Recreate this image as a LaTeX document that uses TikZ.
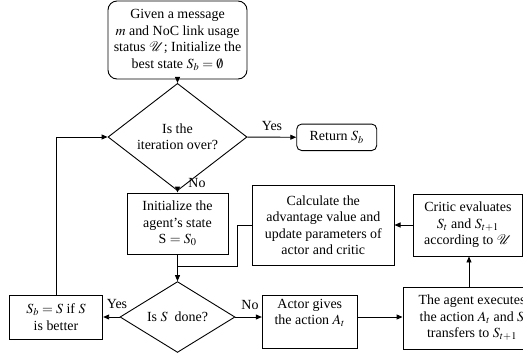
\documentclass[tikz,border=0pt]{standalone}
\usepackage{mathptmx}
\usepackage{fontspec}
\setmainfont{Liberation Serif}
\usetikzlibrary{shapes.geometric,arrows.meta}
\begin{document}
\begin{tikzpicture}[x=1bp,y=-1bp,
  font=\fontsize{14}{16.5}\selectfont,
  line width=0.9bp,
  box/.style={draw, rectangle, inner sep=0pt, align=center},
  rbox/.style={box, rounded corners=#1},
  dia/.style={draw, diamond, inner sep=0pt, align=center},
  arr/.style={-{Triangle[length=6bp,width=5bp]}},
  lbl/.style={inner sep=0pt}]
\useasboundingbox (0,0) rectangle (523,354);

% process steps
\node[rbox=9bp, minimum width=139bp, minimum height=78bp] (start) at (177.5,40)
  {Given a message\\ $m$ and NoC link usage\\ status $\mathcal{U}$; Initialize the\\ best state $S_b=\emptyset$};
\node[dia, minimum width=139bp, minimum height=74bp] (d1) at (177.5,137)
  {Is the\\ iteration over?};
\node[rbox=5bp, minimum width=80bp, minimum height=26.5bp] (ret) at (336.7,137.3)
  {Return $S_b$};
\node[box, minimum width=101bp, minimum height=61bp] (init) at (177.5,223.5)
  {Initialize the\\ agent’s state\\ S $=S_0$};
\node[box, minimum width=141.5bp, minimum height=80.7bp] (calc) at (323.3,225.3)
  {Calculate the\\ advantage value and\\ update parameters of\\ actor and critic};
\node[box, minimum width=109.7bp, minimum height=62bp] (critic) at (467.9,225)
  {Critic evaluates\\ $S_t$ and $S_{t+1}$\\ according to $\mathcal{U}$};
\node[dia, minimum width=115bp, minimum height=56bp] (d2) at (177.5,317)
  {Is $S$\ \ done?};
\node[box, minimum width=93.4bp, minimum height=44bp] (sb) at (56,317)
  {$S_b=S$ if $S$\\ is better};
\node[box, minimum width=95bp, minimum height=53.3bp] (actor) at (309.8,321.6)
  {Actor gives\\ the action $A_t$\\[3bp]};
\node[box, minimum width=138bp, minimum height=62bp] (agent) at (472,318)
  {The agent executes\\ the action $A_t$ and $S$\\ transfers to $S_{t+1}$};

% branch labels
\node[lbl] (yes1) at (272,126) {Yes};
\node[lbl] (no1)  at (197,183) {No};
\node[lbl] (yes2) at (117,304) {Yes};
\node[lbl] (no2)  at (250,305) {No};

\coordinate (bend) at (237,266);
\coordinate (join) at (177.5,266);

% connectors
\draw[arr] (start) -- (d1);
\draw[arr] (d1) -- (ret);
\draw[arr] (d1.south) -- (init.north);
\draw[arr] (init.south) -- (d2.north);
\draw (calc.west) -| (bend) -- (join);
\draw[arr] (d2.east) -- (d2.east -| actor.west);
\draw[arr] (d2.east -| actor.east) -- (d2.east -| agent.west);
\draw[arr] ([xshift=-3bp]agent.north) -- ([xshift=-3bp]agent.north |- critic.south);
\draw[arr] (critic.west) -- (critic.west -| calc.east);
\draw[arr] (d2.west) -- (sb.east);
\draw[arr] (sb.north) |- (d1.west);
\end{tikzpicture}
\end{document}
